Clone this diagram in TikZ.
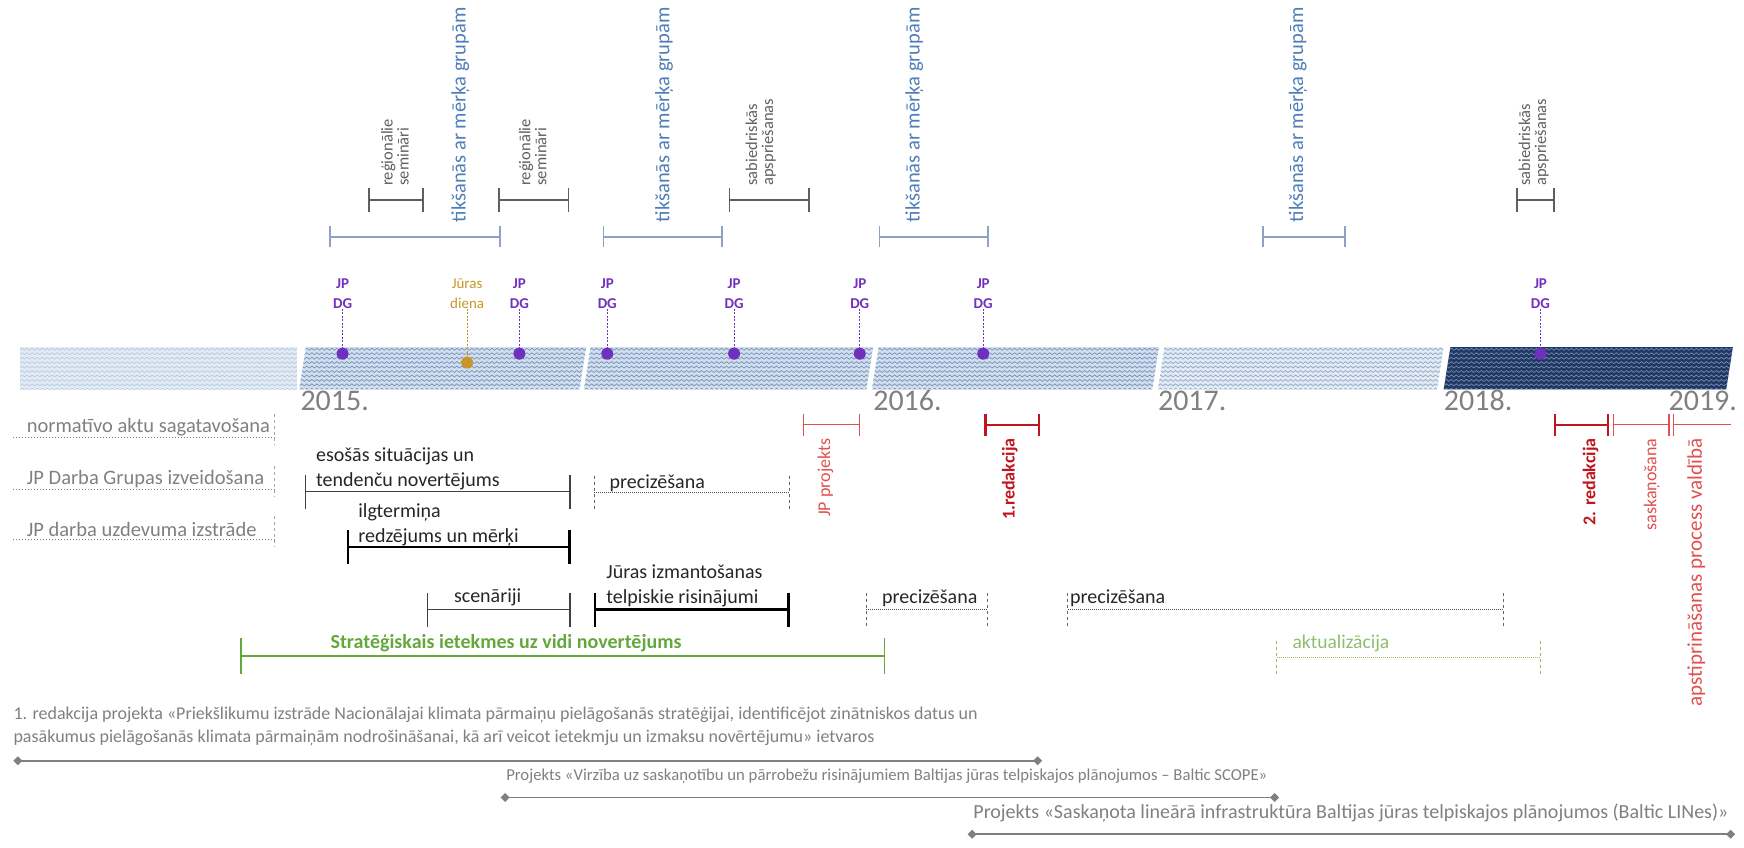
\documentclass[tikz,border=0pt]{standalone}
\usepackage{fontspec}
\setmainfont{Carlito}
\usepackage{tikz}
\usetikzlibrary{arrows.meta, decorations.pathmorphing}
\definecolor{paleband}{RGB}{226,234,243}
\definecolor{palewave}{RGB}{178,198,222}
\definecolor{midband}{RGB}{210,222,236}
\definecolor{midwave}{RGB}{115,145,188}
\definecolor{darkband}{RGB}{31,56,100}
\definecolor{darkwave}{RGB}{120,140,175}
\definecolor{meetblue}{RGB}{79,125,184}
\definecolor{meetline}{RGB}{140,162,194}
\definecolor{semgray}{RGB}{95,95,95}
\definecolor{jppurple}{RGB}{112,48,190}
\definecolor{seaorange}{RGB}{200,150,40}
\definecolor{draftred}{RGB}{192,20,30}
\definecolor{lightred}{RGB}{225,80,80}
\definecolor{seagreen}{RGB}{100,168,60}
\definecolor{lightgreen}{RGB}{140,190,110}
\definecolor{labgray}{RGB}{128,128,128}

\begin{document}
\begin{tikzpicture}[x=1.1122pt, y=-1.1122pt,
    every node/.style={inner sep=0pt},
    meet/.style={meetline, line width=1.6pt, {Bar[width=21pt]}-{Bar[width=21pt]}},
    meettxt/.style={text=meetblue, rotate=90, anchor=west, font=\fontsize{20.5}{20}\selectfont},
    sem/.style={semgray, line width=1.6pt, {Bar[width=24pt]}-{Bar[width=24pt]}},
    semtxt/.style={text=semgray, rotate=90, anchor=west, align=left, font=\fontsize{16.5}{16}\selectfont},
    jpdg/.style={text=jppurple, align=center, font=\bfseries\fontsize{15}{20}\selectfont},
    jpdot/.style={circle, fill=jppurple, minimum size=12pt},
    jpline/.style={jppurple, line width=1pt, dash pattern=on 2pt off 1.5pt},
    year/.style={text=labgray, anchor=west, font=\fontsize{30}{30}\selectfont},
    lab/.style={text=labgray, anchor=west, font=\fontsize{20.5}{21}\selectfont},
    labline/.style={labgray, line width=1pt, dotted},
    labtick/.style={labgray!70, line width=1pt, dashed},
    worktxt/.style={text=black!85, anchor=south west, align=left, font=\fontsize{20}{25}\selectfont},
    work/.style={black!75, line width=1.2pt, {Bar[width=34pt]}-{Bar[width=34pt]}},
    workbold/.style={black, line width=2.4pt, {Bar[width=34pt]}-{Bar[width=34pt]}},
    refine/.style={black!70, line width=1pt, densely dotted},
    refinetick/.style={black!60, line width=0.8pt, dashed},
    redtxt/.style={text=lightred, rotate=90, anchor=east, font=\fontsize{18}{18}\selectfont},
    redbold/.style={text=draftred, rotate=90, anchor=east, font=\bfseries\fontsize{18}{18}\selectfont},
    proj/.style={labgray, line width=1.5pt, {Diamond[width=9pt,length=9pt]}-{Diamond[width=9pt,length=9pt]}},
    projtxt/.style={text=labgray, anchor=west, align=left, font=\fontsize{18}{23}\selectfont}]

    \useasboundingbox (0,0) rectangle (1568,762);

    % band
    \begin{scope}
        \clip (18,312) rectangle (267,350);
        \fill[paleband] (18,312) rectangle (267,350);
        \foreach \yy in {314,318,...,350}
            \draw[palewave, line width=0.6pt, decorate, decoration={snake, segment length=5pt, amplitude=1pt}] (14,\yy) -- (272,\yy);
    \end{scope}
    \foreach \xl/\xr/\fc/\wc in {275/527/midband/midwave, 531/785/midband/midwave,
            790/1042/midband/midwave, 1047/1298/paleband/midwave!80, 1304/1558/darkband/darkwave} {
        \begin{scope}
            \clip (\xl-6,350) -- (\xr-6,350) -- (\xr,312) -- (\xl,312) -- cycle;
            \fill[\fc] (\xl-10,310) rectangle (\xr+2,352);
            \foreach \yy in {314,318,...,350}
                \draw[\wc, line width=0.7pt, decorate, decoration={snake, segment length=5pt, amplitude=1pt}] (\xl-14,\yy) -- (\xr+4,\yy);
        \end{scope}
    }

    \node[year] (y15) at (270,360) {2015.};
    \node[year] (y16) at (785,360) {2016.};
    \node[year] (y17) at (1041,360) {2017.};
    \node[year] (y18) at (1298,360) {2018.};
    \node[year] (y19) at (1500,360) {2019.};

    % meetings and seminars
    \draw[meet] (296,213) -- (450,213);
    \draw[meet] (542,213) -- (650,213);
    \draw[meet] (790,213) -- (889,213);
    \draw[meet] (1135,213) -- (1210,213);
    \node[meettxt] (m1) at (414,200) {tikšanās ar mērķa grupām};
    \node[meettxt] (m2) at (597,200) {tikšanās ar mērķa grupām};
    \node[meettxt] (m3) at (822,200) {tikšanās ar mērķa grupām};
    \node[meettxt] (m4) at (1167,200) {tikšanās ar mērķa grupām};

    \draw[sem] (331,180) -- (381,180);
    \draw[sem] (448,180) -- (512,180);
    \draw[sem] (655,180) -- (728,180);
    \draw[sem] (1363,180) -- (1398,180);
    \node[semtxt] (s1) at (355,167) {reģionālie\\semināri};
    \node[semtxt] (s2) at (479,167) {reģionālie\\semināri};
    \node[semtxt] (s3) at (684,167) {sabiedriskās\\apspriešanas};
    \node[semtxt] (s4) at (1379,167) {sabiedriskās\\apspriešanas};

    % working group meetings
    \foreach \x [count=\i] in {308, 467, 546, 660, 773, 884, 1385} {
        \node[jpdg] (jp\i) at (\x,264) {JP\\DG};
        \node[jpdot] (d\i) at (\x,318) {};
        \draw[jpline] (jp\i) -- (d\i);
    }
    \node[jpdg, text=seaorange, font=\fontsize{15}{20}\selectfont] (sea) at (420,264) {Jūras\\diena};
    \node[jpdot, fill=seaorange] (seadot) at (420,326) {};
    \draw[jpline, seaorange] (sea) -- (seadot);

    % left labels
    \foreach \t/\yy [count=\i] in {normatīvo aktu sagatavošana/384, JP Darba Grupas izveidošana/431, JP darba uzdevuma izstrāde/476} {
        \node[lab] (lab\i) at (24,\yy) {\t};
        \draw[labline] (12,\yy+9) -- (247,\yy+9);
        \draw[labtick] (247,\yy-12) -- (247,\yy+15);
    }

    % work stages
    \draw[work] (274,442) -- (513,442);
    \node[worktxt] (w1) at (284,441) {esošās situācijas un\\tendenču novertējums};
    \draw[workbold] (312,492) -- (513,492);
    \node[worktxt] (w2) at (322,491) {ilgtermiņa\\redzējums un mērķi};
    \draw[work] (384,548) -- (513,548);
    \node[worktxt] (w3) at (408,545) {scenāriji};
    \draw[workbold] (534,548) -- (710,548);
    \node[worktxt] (w4) at (545,546) {Jūras izmantošanas\\telpiskie risinājumi};

    \draw[refine] (534,443) -- (710,443);
    \draw[refinetick] (534,428) -- (534,458) (710,428) -- (710,458);
    \node[worktxt] (r1) at (548,442) {precizēšana};
    \draw[refine] (779,548) -- (888,548);
    \draw[refinetick] (779,533) -- (779,563) (888,533) -- (888,563);
    \node[worktxt] (r2) at (793,546) {precizēšana};
    \draw[refine] (960,548) -- (1352,548);
    \draw[refinetick] (960,533) -- (960,563) (1352,533) -- (1352,563);
    \node[worktxt] (r3) at (962,546) {precizēšana};

    % environmental assessment
    \draw[seagreen, line width=1.6pt, {Bar[width=36pt]}-{Bar[width=36pt]}] (216,590) -- (796,590);
    \node[text=seagreen, anchor=south, font=\bfseries\fontsize{20}{20}\selectfont] (sivn) at (455,586) {Stratēģiskais ietekmes uz vidi novertējums};
    \draw[lightgreen, line width=1pt, densely dotted] (1148,591) -- (1385,591);
    \draw[lightgreen, line width=0.8pt, dashed] (1148,576) -- (1148,606) (1385,576) -- (1385,606);
    \node[text=lightgreen, anchor=south west, font=\fontsize{19.5}{19.5}\selectfont] (akt) at (1162,586) {aktualizācija};

    % drafts
    \draw[lightred, line width=1.2pt, {Bar[width=22pt]}-{Bar[width=22pt]}] (722,382) -- (773,382);
    \node[redtxt] (jpp) at (742,394) {JP projekts};
    \draw[draftred, line width=2.4pt, {Bar[width=22pt]}-{Bar[width=22pt]}] (885,382) -- (935,382);
    \node[redbold] (red1) at (908,394) {1.redakcija};
    \draw[draftred, line width=2.4pt, {Bar[width=22pt]}-{Bar[width=22pt]}] (1397,382) -- (1447,382);
    \node[redbold] (red2) at (1430,394) {2. redakcija};
    \draw[lightred, line width=1.2pt, {Bar[width=22pt]}-{Bar[width=22pt]}] (1450,382) -- (1501,382);
    \node[redtxt] (sask) at (1485,394) {saskaņošana};
    \draw[lightred, line width=1.2pt, {Bar[width=22pt]}-] (1504,382) -- (1556,382);
    \node[redtxt, font=\fontsize{21}{21}\selectfont] (apst) at (1525,394) {apstiprināšanas process valdībā};

    % projects
    \node[projtxt] (p1) at (12,653) {1. redakcija projekta «Priekšlikumu izstrāde Nacionālajai klimata pārmaiņu pielāgošanās stratēģijai, identificējot zinātniskos datus un\\pasākumus pielāgošanās klimata pārmaiņām nodrošināšanai, kā arī veicot ietekmju un izmaksu novērtējumu» ietvaros};
    \draw[proj] (12,684) -- (937,684);
    \node[projtxt, font=\fontsize{16.7}{20}\selectfont] (p2) at (455,698) {Projekts «Virzība uz saskaņotību un pārrobežu risinājumiem Baltijas jūras telpiskajos plānojumos – Baltic SCOPE»};
    \draw[proj] (450,717) -- (1150,717);
    \node[projtxt, font=\fontsize{20}{20}\selectfont] (p3) at (875,731) {Projekts «Saskaņota lineārā infrastruktūra Baltijas jūras telpiskajos plānojumos (Baltic LINes)»};
    \draw[proj] (870,750) -- (1560,750);

\end{tikzpicture}
\end{document}
